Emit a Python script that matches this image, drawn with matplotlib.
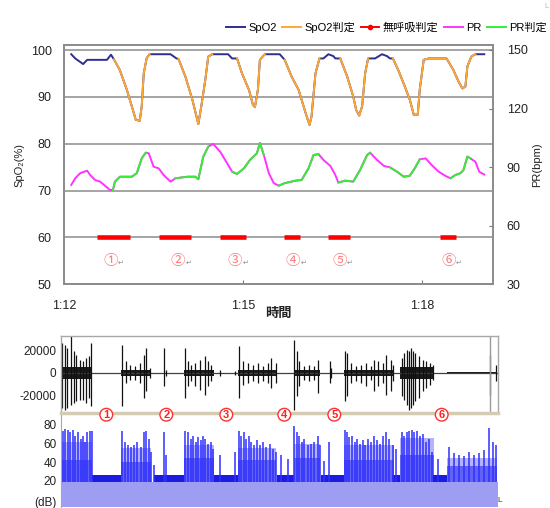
import numpy as np
import matplotlib.pyplot as plt
from matplotlib.lines import Line2D
from matplotlib.transforms import blended_transform_factory

plt.rcParams['font.family'] = ['Liberation Sans', 'Noto Sans CJK JP', 'DejaVu Sans']
plt.rcParams['axes.unicode_minus'] = False

## ---- top chart: oximeter data (time in seconds from 1:12:00) ----
spo2_t = [7, 11, 19, 23, 43, 47, 50, 56, 63, 68, 72, 76, 78, 80, 83, 86,
          107, 113, 115, 122, 129, 135, 138, 142, 145, 149, 165, 169, 174,
          179, 186, 190, 192, 195, 197, 202, 217, 222, 229, 236, 243, 247,
          249, 253, 257, 261, 266, 271, 273, 278, 285, 291, 294, 297, 300,
          303, 306, 313, 320, 325, 328, 331, 337, 343, 348, 352, 356, 358,
          362, 367, 385, 392, 397, 401, 404, 406, 410, 414, 423]
spo2 = [99.1, 98.2, 97.0, 97.9, 97.9, 99.0, 98.0, 95.7, 91.5, 88.0, 85.1,
        84.9, 88.0, 95.0, 98.3, 99.1, 99.1, 98.2, 98.1, 94.3, 89.4, 84.2,
        88.0, 93.6, 98.6, 99.1, 99.1, 98.2, 98.2, 95.0, 91.5, 88.3, 87.8,
        91.5, 97.9, 99.1, 99.1, 97.9, 94.3, 91.5, 86.6, 84.0, 85.8, 95.0,
        98.2, 98.2, 99.1, 98.7, 98.2, 98.2, 94.3, 90.1, 87.2, 86.0, 88.0,
        95.0, 98.2, 98.2, 99.1, 98.7, 98.2, 98.2, 95.4, 92.2, 89.4, 86.2,
        86.2, 91.5, 97.9, 98.2, 98.2, 95.7, 93.3, 91.8, 92.2, 96.5, 98.6,
        99.1, 99.1]
spo2_judge_start = [50, 115, 174, 222, 278, 331, 385]
spo2_judge_end = [86, 149, 202, 257, 306, 367, 414]

pr_t = [7, 11, 16, 23, 26, 31, 36, 40, 46, 49, 51, 56, 68, 73, 78, 82, 85,
        90, 95, 100, 107, 112, 124, 132, 135, 140, 145, 150, 157, 164, 169,
        174, 181, 187, 194, 197, 201, 206, 211, 216, 222, 233, 239, 246,
        251, 256, 261, 268, 273, 276, 283, 291, 298, 305, 308, 315, 322,
        328, 335, 342, 348, 353, 358, 364, 370, 377, 384, 389, 394, 399,
        402, 406, 409, 414, 418, 423]
pr = [80.9, 84.3, 86.9, 88.2, 86.0, 83.4, 82.6, 80.9, 78.3, 78.3, 82.6,
      85.1, 85.1, 86.9, 94.5, 97.4, 97.1, 90.2, 89.4, 86.0, 82.6, 84.3,
      85.1, 85.1, 83.8, 95.4, 100.5, 101.9, 97.9, 92.0, 87.7, 86.5, 89.4,
      93.7, 97.1, 102.4, 96.2, 86.9, 81.8, 80.5, 81.8, 83.1, 83.4, 89.4,
      96.2, 96.7, 93.7, 90.6, 86.0, 82.1, 83.1, 82.6, 88.6, 96.2, 97.4,
      93.7, 90.6, 89.9, 87.7, 85.1, 85.6, 89.4, 94.0, 94.5, 91.1, 87.7,
      85.5, 84.3, 86.0, 86.9, 88.5, 95.4, 94.5, 92.8, 87.6, 86.2]
pr_judge_start = [49, 112, 169, 216, 276, 328, 389]
pr_judge_end = [82, 145, 201, 256, 308, 358, 409]

apnea_start = [33, 95, 157, 221, 266, 378]
apnea_end = [66, 128, 183, 237, 288, 395]
apnea_level = 60
label_t = [46.5, 114.7, 172, 230.3, 277.3, 386.9]
label_level = 55
circ_labels = ['①', '②', '③', '④', '⑤', '⑥']

tick_t = [0, 180, 360]
tick_labels = ['1:12', '1:15', '1:18']

## ---- bottom chart: sound (own time base, seconds) ----
wave_t = [3.6, 6.3, 8.9, 12.9, 15.6, 17.9, 21.3, 24.6, 27.9, 30.3, 32.9,
          63.9, 67.9, 71.3, 76.9, 81.3, 85.6, 87.9, 91.3, 105.6, 108,
          126.9, 129.6, 132.9, 136.9, 141.3, 146.3, 149.6, 152.9, 162, 176.3,
          180.6, 184.6, 189.6, 194.6, 199.6, 204.6, 209.6, 212.9, 217.6,
          235.9, 238.3, 240.9, 245.9, 250.9, 255.9, 259.9, 271.6, 273,
          286.6, 288.3, 292.6, 297.6, 302.6, 307.6, 312.6, 315.9, 319.3,
          324.3, 327.6, 332.6, 334.3,
          343.6, 345.9, 348.3, 350.9, 352.6, 354.3, 356.9, 360.3, 364.3,
          367.6, 371.6, 374.3, 431.6, 437.6]
wave_pos = [26100, 24600, 21700, 31900, 18900, 15900, 11600, 10200, 13000,
            14500, 26100,
            24600, 10200, 7200, 5800, 8700, 15900, 21700, 4400, 22000, 3000,
            21700, 10200, 7200, 8700, 11600, 14500, 10200, 7200, 2500, 2000,
            23200, 10200, 8700, 7200, 8700, 5800, 8700, 13000, 8700,
            29000, 18900, 10200, 5800, 7200, 5800, 11600, 10200, 4000,
            18900, 17400, 8700, 5800, 7200, 8700, 5800, 11600, 10200,
            8700, 15900, 11600, 7200,
            13000, 17400, 20300, 18900, 21700, 18900, 17400, 14500, 11600,
            10200, 8700, 7200, 15900, 7000]
wave_neg = [-30400, -31900, -30400, -27500, -26100, -24700, -23200, -23200,
            -26100, -21800, -29000,
            -29000, -8700, -5800, -5800, -8700, -21800, -15900, -4400,
            -11000, -3000,
            -21800, -11600, -7200, -11600, -14500, -18900, -11600, -7200,
            -2500, -2000,
            -21800, -10200, -8700, -7200, -8700, -7200, -8700, -13000, -8700,
            -31900, -20300, -11600, -5800, -7200, -5800, -17400, -8700, -4000,
            -24700, -20300, -8700, -7200, -8700, -11600, -5800, -15900,
            -11600, -8700, -18900, -15900, -7200,
            -20300, -23200, -27500, -31900, -30400, -27500, -24700, -21800,
            -15900, -13000, -10200, -5800, -18900, -7000]
burst_start = [3, 63, 126, 180, 236, 286, 342, 389]
burst_end = [34, 93, 156, 218, 262, 336, 376, 439]
burst_amp = [5500, 2200, 2800, 2500, 2800, 2500, 5000, 1100]
cursor_t = 431.6
event_t = [47.9, 107.9, 167.9, 225.9, 275.9, 383.3]

db_t = [3, 4.6, 6.9, 9.6, 12, 14.6, 17, 19.6, 22.3, 24.6, 27, 29, 32, 33.6,
        64, 66.3, 69.6, 73, 75.6, 79, 82.3, 85.6, 88, 90.3, 93, 95.6,
        105.6, 108,
        127, 129.6, 132.3, 134.6, 137.3, 139.6, 142.3, 144.6, 147, 149.6,
        152.3, 155, 162, 176.3,
        180.6, 183, 185.6, 188, 190.3, 193, 195.6, 198.3, 201.3, 204.6,
        208, 211.3, 214.6, 218, 222.6, 229.3,
        236, 238.3, 241, 243.6, 246, 249.3, 252.6, 256, 259.3, 261.6,
        266, 271,
        286.6, 288.6, 291, 293.6, 296.3, 299, 301.6, 304.3, 307, 309.6,
        312.6, 315.6, 318.6, 321.6, 324.3, 327.6, 331, 334.3, 337.6,
        343.6, 346, 348.3, 351, 353.6, 356, 358.6, 361.6, 364.3, 367.6,
        371, 373.6, 379.3,
        390.9, 396, 401, 406, 411, 416, 421, 426, 431, 434.3, 437.6]
db_top = [75, 73.5, 76, 75, 72, 75, 68.5, 72, 65, 68.5, 61.5, 72, 73.5, 73,
          73.5, 61.5, 58, 56.5, 58, 61.5, 56, 72, 73.5, 65, 51, 37,
          72, 48,
          73.5, 72, 65, 68.5, 61.5, 67, 63.5, 68.5, 65, 60, 61.5, 54.5, 48, 51,
          73.5, 68.5, 72, 65, 68.5, 61.5, 58, 63.5, 58, 61.5, 56.5, 60,
          54.5, 51, 48, 44,
          78.6, 72, 68.5, 61.5, 65, 58, 60, 61.5, 68.5, 58,
          41, 61.5,
          75, 72, 67, 68.5, 61.5, 65, 60, 63.5, 58, 65, 61.5, 68.5, 63.5,
          60, 68.5, 72, 65, 58, 54.5,
          72, 68.5, 72, 73.5, 74.5, 72, 73.5, 68.5, 70, 61.5, 65, 51, 44,
          56.5, 50, 48, 46.7, 51, 48, 50, 53, 77, 61.5, 58]
db_floor = 19
body_level = [62, 55, 58, 55, 60, 58, 66, 45]
core_level = [42, 40, 45, 42, 45, 42, 48, 36]
quiet_start = [34, 96, 156, 219, 263, 334, 375]
quiet_end = [63, 126, 180, 236, 286, 342, 389]
quiet_level = 26

GRID = '#8c8c8c'


def in_spans(t, starts, ends):
    t = np.asarray(t, dtype=float)
    m = np.zeros(len(t), dtype=bool)
    for s, e in zip(starts, ends):
        m |= (t >= s) & (t <= e)
    return m


W, H = 550, 508
fig = plt.figure(figsize=(W / 100, H / 100), dpi=100)

## top chart
ax = fig.add_axes([64.3 / W, 1 - 284.3 / H, 428.4 / W, 239.3 / H])
ax2 = ax.twinx()
ax.set_xlim(0, 431.5)
ax.set_ylim(50, 101.07)
ax2.set_ylim(30, 152.56)
ax.set_yticks(range(50, 101, 10))
ax2.set_yticks(range(30, 151, 30))
ax.set_xticks(tick_t)
ax.set_xticklabels(tick_labels)
ax.grid(axis='y', color=GRID, lw=1.1)
ax.grid(axis='x', visible=False)
ax.tick_params(axis='y', length=0, pad=9, labelsize=9, labelcolor='#222222')
ax.tick_params(axis='x', direction='in', length=3, color='#777777', pad=11,
               labelsize=9, labelcolor='#222222')
ax2.tick_params(axis='y', direction='in', length=3, color='#777777', pad=10,
                labelsize=9, labelcolor='#222222')
for a in (ax, ax2):
    for sp in a.spines.values():
        sp.set_color(GRID)
        sp.set_linewidth(1.3)

sp_t = np.asarray(spo2_t, dtype=float)
sp_v = np.asarray(spo2, dtype=float)
ax.plot(sp_t, sp_v, color='#2e2e8f', lw=1.4, zorder=3)
m = in_spans(sp_t, spo2_judge_start, spo2_judge_end)
ax.plot(sp_t, np.where(m, sp_v, np.nan), color='#ffa733', lw=1.4, zorder=4)

p_t = np.asarray(pr_t, dtype=float)
p_v = np.asarray(pr, dtype=float)
ax2.plot(p_t, p_v, color='#ff33ff', lw=1.4, zorder=3)
m = in_spans(p_t, pr_judge_start, pr_judge_end)
ax2.plot(p_t, np.where(m, p_v, np.nan), color='#33ee33', lw=1.4, zorder=4)

for s, e in zip(apnea_start, apnea_end):
    ax.plot([s, e], [apnea_level, apnea_level], color='#ff0000', lw=3.3,
            solid_capstyle='butt', zorder=5)

for lt, lab in zip(label_t, circ_labels):
    ax.text(lt, label_level, lab, color='#ff7d7d', fontsize=10.5,
            ha='center', va='center', zorder=6)
    ax.annotate('↵', (lt, label_level), xytext=(7.5, -2),
                textcoords='offset points', fontsize=5, color='#909090',
                ha='center', va='center')

fig.text(19 / W, 1 - 165 / H, 'SpO₂(%)', rotation=90, ha='center',
         va='center', fontsize=8, color='#222222')
fig.text(537 / W, 1 - 165 / H, 'PR(bpm)', rotation=90, ha='center',
         va='center', fontsize=8, color='#222222')
fig.text(278 / W, 1 - 314 / H, '時間', ha='center', va='center',
         fontsize=9.5, fontweight='bold', color='#222222')

handles = [Line2D([], [], color='#2e2e8f', lw=1.4),
           Line2D([], [], color='#ffa733', lw=1.4),
           Line2D([], [], color='#ff0000', lw=1.4, marker='o', markersize=3),
           Line2D([], [], color='#ff33ff', lw=1.4),
           Line2D([], [], color='#33ee33', lw=1.4)]
fig.legend(handles, ['SpO2', 'SpO2判定', '無呼吸判定', 'PR', 'PR判定'],
           loc='center right', bbox_to_anchor=(547 / W, 1 - 27.5 / H),
           ncol=5, frameon=False, fontsize=8, handlelength=1.7,
           handletextpad=0.3, columnspacing=0.5, borderpad=0,
           borderaxespad=0)
fig.text(546 / W, 1 - 7 / H, 'L', fontsize=5, color='#b0b0b0',
         ha='center', va='center')

## bottom chart: dB level
axd = fig.add_axes([60.7 / W, 1 - 507 / H, 437 / W, 92 / H])
axd.set_xlim(2.3, 439.3)
axd.set_ylim(-8, 90.7)
axd.axhspan(-20, db_floor, color='#9d9df2', lw=0)
for s, e, lv, cv in zip(burst_start, burst_end, body_level, core_level):
    axd.fill_between([s, e], db_floor, lv, color='#b4b4fc', lw=0)
    axd.fill_between([s, e], db_floor, cv, color='#6262f6', lw=0)
axd.vlines(db_t, db_floor, db_top, color='#3030ff', lw=1.1)
for s, e in zip(quiet_start, quiet_end):
    axd.fill_between([s, e], db_floor, quiet_level, color='#1c1ce0', lw=0)
axd.set_xticks([])
axd.set_yticks([20, 40, 60, 80])
axd.tick_params(axis='y', length=0, pad=3, labelsize=8.5, labelcolor='#222222')
for k, sp in axd.spines.items():
    sp.set_visible(k == 'left')
    sp.set_color('#a8a8a8')
fig.text(57 / W, 1 - 503 / H, '(dB)', ha='right', va='center',
         fontsize=8.5, color='#222222')
fig.text(500 / W, 1 - 500 / H, 'L', fontsize=6, color='#333333',
         ha='center', va='center')

## bottom chart: waveform
axw = fig.add_axes([60.7 / W, 1 - 413 / H, 437 / W, 77.3 / H])
axw.set_zorder(3)
axw.set_xlim(2.3, 439.3)
axw.set_ylim(-34783, 32435)
axw.axhline(0, color='#404040', lw=0.9)
for s, e, a in zip(burst_start, burst_end, burst_amp):
    axw.fill_between([s, e], -a, a, color='#1a1a1a', lw=0)
axw.vlines(wave_t, wave_neg, wave_pos, color='#111111', lw=0.9)
axw.axvline(cursor_t, color='#9a9a9a', lw=1)
axw.set_xticks([])
axw.set_yticks([-20000, 0, 20000])
axw.tick_params(axis='y', length=0, pad=3, labelsize=8.5, labelcolor='#222222')
for k, sp in axw.spines.items():
    sp.set_color('#a8a8a8')
    sp.set_linewidth(1)
axw.spines['bottom'].set_color('#d3cbb2')
axw.spines['bottom'].set_linewidth(2.5)

tr = blended_transform_factory(axw.transData, fig.transFigure)
for i, et in enumerate(event_t):
    axw.text(et, 1 - 414.7 / H, str(i + 1), transform=tr, ha='center',
             va='center', color='#ff2020', fontsize=8, fontweight='bold',
             bbox=dict(boxstyle='circle,pad=0.12', fc='white', ec='#ff3030',
                       lw=1), clip_on=False, zorder=10)

fig.savefig('out.png', dpi=100)
